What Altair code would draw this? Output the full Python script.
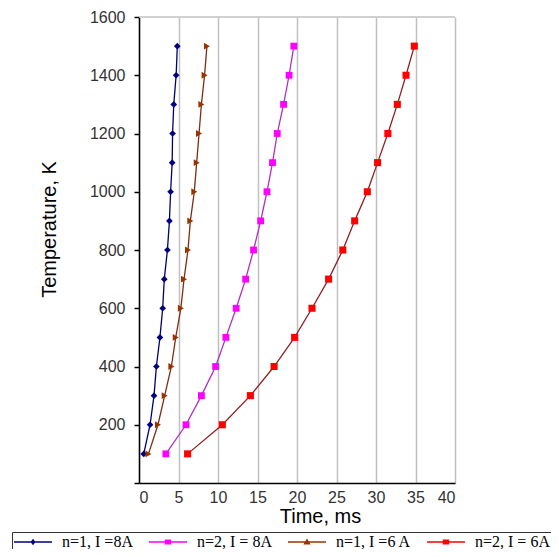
import altair as alt
import pandas as pd

# ---- data ----
temps = [100, 200, 300, 400, 500, 600, 700, 800, 900, 1000, 1100, 1200, 1300, 1400, 1500]
series_names = ["n=1, I =8A", "n=2, I = 8A", "n=1, I =6 A", "n=2, I = 6A"]
time_n1_8A = [0.6, 1.4, 1.9, 2.2, 2.65, 3.0, 3.2, 3.6, 3.85, 4.0, 4.2, 4.25, 4.4, 4.7, 4.85]
time_n2_8A = [3.4, 5.95, 7.9, 9.7, 11.0, 12.3, 13.5, 14.5, 15.4, 16.2, 16.9, 17.5, 18.3, 19.0, 19.6]
time_n1_6A = [1.2, 2.4, 3.25, 4.1, 4.65, 5.3, 5.7, 6.2, 6.5, 7.0, 7.3, 7.6, 7.9, 8.3, 8.6]
time_n2_6A = [6.15, 10.55, 14.1, 17.1, 19.7, 21.9, 24.0, 25.8, 27.3, 28.9, 30.2, 31.5, 32.7, 33.8, 34.85]
x_ticks = [0, 5, 10, 15, 20, 25, 30, 35, 40]
y_ticks = [0, 200, 400, 600, 800, 1000, 1200, 1400, 1600]

# ---- styles ----
marker_colors = ["#000080", "#FF00FF", "#993300", "#FF0000"]
line_colors = ["#000070", "#B030C0", "#7A3010", "#902020"]
marker_shapes = ["diamond", "square", "triangle-right", "square"]
marker_sizes = [45, 50, 60, 50]
legend_paths = [
    "M-1,-0.035H1V0.035H-1Z M0,-0.17L0.13,0L0,0.17L-0.13,0Z",
    "M-1,-0.035H1V0.035H-1Z M-0.17,-0.13H0.17V0.13H-0.17Z",
    "M-1,-0.035H1V0.035H-1Z M0,-0.19L0.19,0.13H-0.19Z",
    "M-1,-0.035H1V0.035H-1Z M-0.17,-0.13H0.17V0.13H-0.17Z",
]

rows = []
for name, xs in zip(series_names, [time_n1_8A, time_n2_8A, time_n1_6A, time_n2_6A]):
    for t, x in zip(temps, xs):
        rows.append({"series": name, "lg": name, "time": x, "temp": t})
df = pd.DataFrame(rows)

frame_df = pd.DataFrame({"time": [x_ticks[0]], "time2": [x_ticks[-1]], "temp": [y_ticks[-1]]})

xenc = alt.X(
    "time:Q",
    scale=alt.Scale(domain=[0, 40], nice=False),
    axis=alt.Axis(
        values=x_ticks, grid=True, gridColor="#c0c0c0", gridWidth=1.5,
        domainColor="black", domainWidth=1.5, ticks=False,
        labelFont="Liberation Sans", labelFontSize=16, labelColor="#333333", labelPadding=6,
        title="Time, ms", titleFont="Liberation Sans", titleFontSize=20,
        titleFontWeight="normal", titleColor="black",
        titleX=181, titleY=23, titleAlign="center", titleBaseline="top",
    ),
)
yenc = alt.Y(
    "temp:Q",
    scale=alt.Scale(domain=[0, 1600], nice=False),
    axis=alt.Axis(
        values=y_ticks, grid=False, domainColor="black", domainWidth=1.5,
        tickColor="black", tickSize=5, tickWidth=1.5, format="d",
        labelFont="Liberation Sans", labelFontSize=16, labelColor="#333333", labelPadding=9,
        labelExpr="datum.value == 0 ? '' : datum.label",
        title="Temperature, K", titleFont="Liberation Sans", titleFontSize=20,
        titleFontWeight="normal", titleColor="black",
        titleX=-80, titleY=212, titleAlign="center",
    ),
)

frame = alt.Chart(frame_df).mark_rule(color="#c0c0c0", strokeWidth=1.5).encode(
    x=xenc, x2="time2:Q", y=yenc
)

lines = alt.Chart(df).mark_line(strokeWidth=1.3).encode(
    x=xenc, y=yenc,
    color=alt.Color("series:N", scale=alt.Scale(domain=series_names, range=line_colors), legend=None),
    order=alt.Order("temp:Q"),
)

points = alt.Chart(df).mark_point(filled=True, opacity=1).encode(
    x=xenc, y=yenc,
    fill=alt.Fill("series:N", scale=alt.Scale(domain=series_names, range=marker_colors), legend=None),
    shape=alt.Shape("series:N", scale=alt.Scale(domain=series_names, range=marker_shapes), legend=None),
    size=alt.Size("series:N", scale=alt.Scale(domain=series_names, range=marker_sizes), legend=None),
)

legend_layer = alt.Chart(df).transform_filter("false").mark_point(filled=True, opacity=1).encode(
    x=xenc, y=yenc,
    fill=alt.Fill("lg:N", scale=alt.Scale(domain=series_names, range=marker_colors), title=None),
    shape=alt.Shape("lg:N", scale=alt.Scale(domain=series_names, range=legend_paths), title=None),
)

chart = (
    alt.layer(frame, lines, points, legend_layer)
    .resolve_scale(fill="independent", shape="independent")
    .properties(
        width=316, height=466, autosize="none",
        padding={"left": 131, "top": 9, "right": 96, "bottom": 66},
    )
    .configure_view(strokeWidth=0)
    .configure_legend(
        orient="none", legendX=-127, legendY=515, direction="horizontal", columns=4,
        symbolSize=1444, symbolStrokeWidth=0, clipHeight=16,
        labelFont="Liberation Serif", labelFontSize=16, labelColor="black",
        labelOffset=10, columnPadding=16, padding=2, strokeColor="#333333",
    )
)

chart.save("out.html", embed_options={"renderer": "svg", "actions": False})
